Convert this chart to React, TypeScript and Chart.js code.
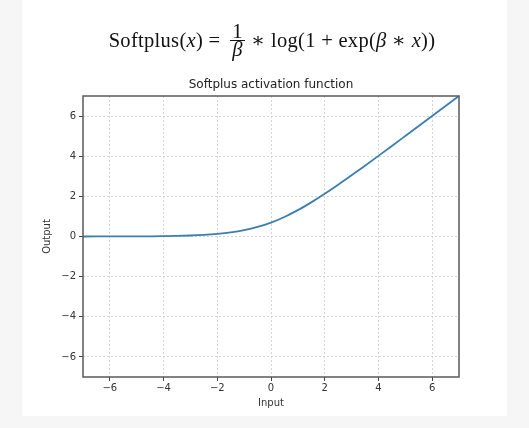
import React, { useEffect, useRef } from "react";
import { Chart, registerables } from "chart.js";

Chart.register(...registerables);

const inputs = [-7, -6.5, -6, -5.5, -5, -4.5, -4, -3.5, -3, -2.5, -2, -1.5, -1, -0.5, 0, 0.5, 1, 1.5, 2, 2.5, 3, 3.5, 4, 4.5, 5, 5.5, 6, 6.5, 7];
const outputs = [0.001, 0.0015, 0.0025, 0.004, 0.0067, 0.011, 0.018, 0.03, 0.049, 0.079, 0.127, 0.201, 0.313, 0.474, 0.693, 0.974, 1.313, 1.701, 2.127, 2.579, 3.049, 3.53, 4.018, 4.511, 5.007, 5.504, 6.002, 6.501, 7.001];
const xTicks = [-6, -4, -2, 0, 2, 4, 6];
const yTicks = [-6, -4, -2, 0, 2, 4, 6];

const chartTitle = "Softplus activation function";
const xTitle = "Input";
const yTitle = "Output";

const fmt = (v: number) => (v < 0 ? "\u2212" + Math.abs(v) : String(v));

const frameBox = {
  id: "frameBox",
  afterDraw(chart: any) {
    const { ctx, chartArea } = chart;
    ctx.save();
    ctx.strokeStyle = "#5a5a5a";
    ctx.lineWidth = 1.5;
    ctx.strokeRect(chartArea.left, chartArea.top, chartArea.right - chartArea.left, chartArea.bottom - chartArea.top);
    ctx.fillStyle = "#222";
    ctx.font = "12px 'DejaVu Sans', sans-serif";
    ctx.textAlign = "center";
    ctx.textBaseline = "middle";
    ctx.fillText(chartTitle, (chartArea.left + chartArea.right) / 2, chartArea.top - 11);
    ctx.restore();
  },
};

export default function App() {
  const ref = useRef<HTMLCanvasElement>(null);
  useEffect(() => {
    document.body.style.margin = "0";
    document.body.style.background = "#f6f6f6";
    const font = { family: "'DejaVu Sans', sans-serif", size: 10 };
    const gridOpts: any = {
      color: "#d4d4d4",
      lineWidth: 1,
      drawTicks: true,
      tickLength: 4,
      tickColor: "#444",
      tickWidth: 1,
      tickBorderDash: [],
    };
    const chart = new Chart(ref.current!, {
      type: "line",
      data: {
        datasets: [
          {
            data: inputs.map((x, i) => ({ x, y: outputs[i] })),
            borderColor: "#3b7fb0",
            borderWidth: 1.8,
            pointRadius: 0,
            cubicInterpolationMode: "monotone",
            fill: false,
          },
        ],
      },
      options: {
        animation: false,
        responsive: false,
        layout: { padding: { left: 0, top: 96, right: 70, bottom: 0 } },
        plugins: {
          legend: { display: false },
          tooltip: { enabled: false },
          title: { display: false },
        },
        scales: {
          x: {
            type: "linear",
            min: -7,
            max: 7,
            afterBuildTicks: (s: any) => {
              s.ticks = xTicks.map((v) => ({ value: v }));
            },
            afterFit: (s: any) => {
              s.height = 51;
            },
            ticks: { color: "#333", font, padding: 1, callback: (v: any) => fmt(Number(v)), maxRotation: 0 },
            grid: gridOpts,
            border: { display: false, dash: [2, 2] },
            title: { display: true, text: xTitle, color: "#333", font, padding: { top: 0, bottom: 19 } },
          },
          y: {
            type: "linear",
            min: -7,
            max: 7,
            afterBuildTicks: (s: any) => {
              s.ticks = yTicks.map((v) => ({ value: v }));
            },
            afterFit: (s: any) => {
              s.width = 83;
            },
            ticks: { color: "#333", font, padding: 3, callback: (v: any) => fmt(Number(v)) },
            grid: gridOpts,
            border: { display: false, dash: [2, 2] },
            title: { display: true, text: yTitle, color: "#333", font, padding: { top: 41, bottom: 0 } },
          },
        },
      },
      plugins: [frameBox],
    } as any);
    return () => chart.destroy();
  }, []);

  const serif = "'Liberation Serif', 'DejaVu Serif', serif";
  return (
    <div style={{ position: "fixed", left: 0, top: 0, width: 529, height: 428, background: "#f6f6f6" }}>
      <div style={{ position: "absolute", left: 22, top: 0, width: 485, height: 416, background: "#fff" }} />
      <canvas ref={ref} width={529} height={428} style={{ position: "absolute", left: 0, top: 0 }} />
      <div
        style={{
          position: "absolute",
          left: 0,
          width: 544,
          top: 20,
          height: 40,
          display: "flex",
          alignItems: "center",
          justifyContent: "center",
          fontFamily: serif,
          fontSize: 20.5,
          letterSpacing: 0.3,
          color: "#111",
          whiteSpace: "pre",
        }}
      >
        <span>
          Softplus(<i>x</i>) = 
        </span>
        <span style={{ display: "inline-flex", flexDirection: "column", alignItems: "center", margin: "0 1px 0 10px", lineHeight: "17px" }}>
          <span>1</span>
          <span style={{ borderTop: "1px solid #111", padding: "0 2px" }}>
            <i>β</i>
          </span>
        </span>
        <span>
          {" \u2217 log(1 + exp("}
          <i>β</i>
          {" \u2217 "}
          <i>x</i>
          {"))"}
        </span>
      </div>
    </div>
  );
}
